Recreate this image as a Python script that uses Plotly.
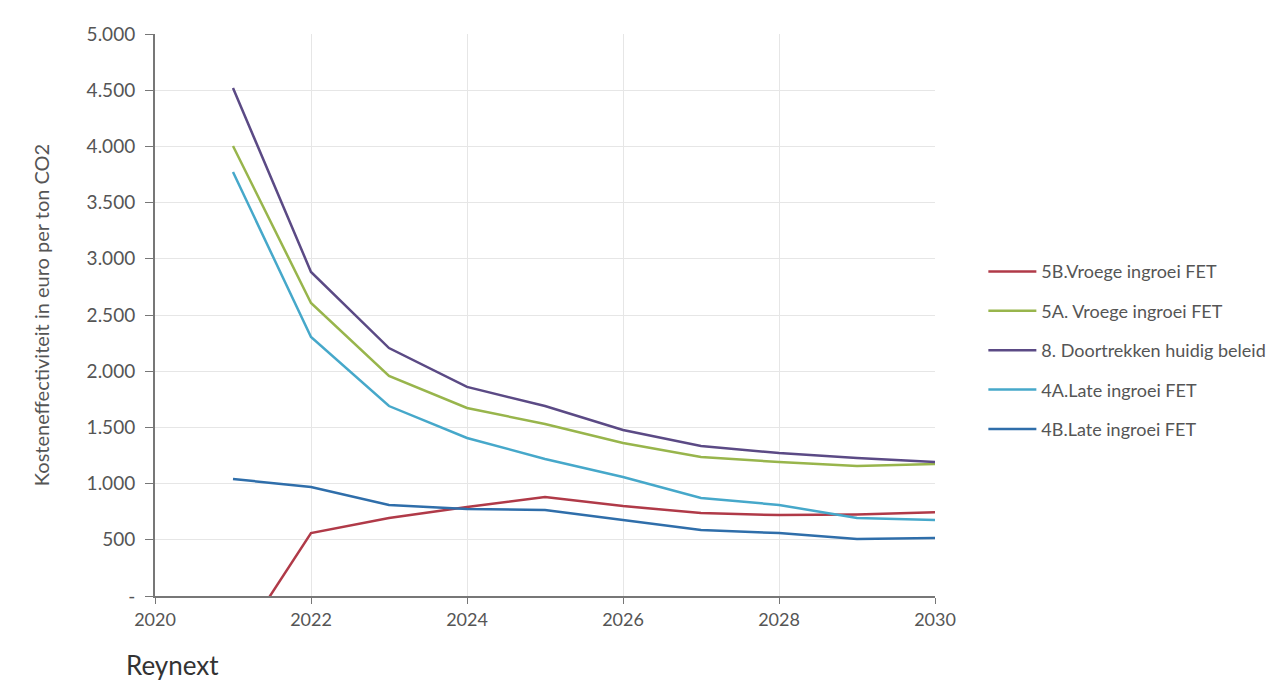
import plotly.graph_objects as go

years = [2021, 2022, 2023, 2024, 2025, 2026, 2027, 2028, 2029, 2030]

s_5b = [-505, 560, 694, 792, 880, 800, 738, 720, 725, 745]
s_5a = [4004, 2607, 1957, 1673, 1530, 1361, 1237, 1192, 1157, 1174]
s_8 = [4520, 2883, 2206, 1860, 1690, 1477, 1335, 1272, 1228, 1192]
s_4a = [3772, 2304, 1690, 1406, 1219, 1059, 872, 810, 694, 676]
s_4b = [1041, 970, 810, 774, 765, 676, 587, 560, 507, 516]

names = ["5B.Vroege ingroei FET", "5A. Vroege ingroei FET", "8. Doortrekken huidig beleid",
         "4A.Late ingroei FET", "4B.Late ingroei FET"]
colors = ["#B03A48", "#98B54C", "#5B4A85", "#46A8CA", "#2F6EAA"]
series = [s_5b, s_5a, s_8, s_4a, s_4b]

y_ticks = [0, 500, 1000, 1500, 2000, 2500, 3000, 3500, 4000, 4500, 5000]
y_labels = ["-", "500", "1.000", "1.500", "2.000", "2.500", "3.000", "3.500", "4.000", "4.500", "5.000"]
x_ticks = [2020, 2022, 2024, 2026, 2028, 2030]

fig = go.Figure()
for i, (n, c, s) in enumerate(zip(names, colors, series)):
    fig.add_trace(go.Scatter(x=years, y=s, mode="lines", name=n, legendgroup=str(i),
                             line=dict(color=c, width=2.5)))

fig.update_layout(
    width=1281, height=689,
    paper_bgcolor="white", plot_bgcolor="white",
    margin=dict(l=147, r=354, t=26, b=101),
    font=dict(family="Lato, Open Sans, sans-serif", color="#555555", size=15),
    showlegend=True,
    legend=dict(x=1.062, y=0.61, xanchor="left", yanchor="top",
                traceorder="grouped", tracegroupgap=13, itemwidth=48,
                font=dict(size=18, color="#555555"), bgcolor="rgba(0,0,0,0)"),
    xaxis=dict(range=[2020, 2030], tickvals=x_ticks, ticktext=[str(v) for v in x_ticks],
               showgrid=True, gridcolor="#E6E6E6", gridwidth=1,
               showline=True, linecolor="#777777", linewidth=2,
               ticks="outside", ticklen=6, tickcolor="#777777",
               zeroline=False, tickfont=dict(size=18, color="#555555")),
    yaxis=dict(range=[0, 5000], tickvals=y_ticks, ticktext=y_labels,
               showgrid=True, gridcolor="#E6E6E6", gridwidth=1,
               showline=True, linecolor="#777777", linewidth=2,
               ticks="outside", ticklen=8, tickcolor="#777777",
               ticklabelstandoff=6,
               zeroline=False, tickfont=dict(size=19, color="#555555"),
               title=dict(text="Kosteneffectiviteit in euro per ton CO2",
                          font=dict(size=20, color="#555555"), standoff=32)),
)

fig.add_annotation(text="Reynext", xref="paper", yref="paper", x=-0.04, y=-0.155,
                   xanchor="left", yanchor="bottom", showarrow=False,
                   font=dict(size=26, color="#333333", family="Lato, sans-serif"))

fig.write_html("out.html")
